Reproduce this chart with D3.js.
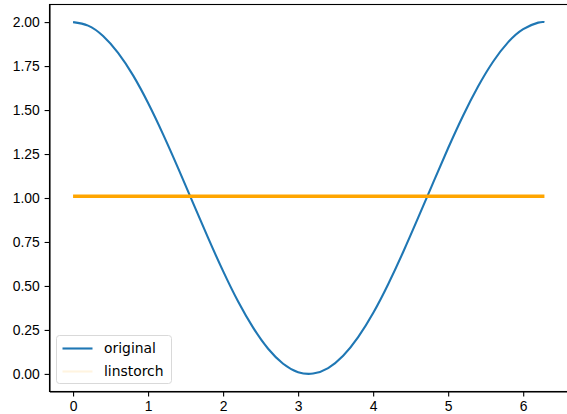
<!DOCTYPE html>
<html>
<head>
<meta charset="utf-8">
<script src="https://cdn.jsdelivr.net/npm/d3@7"></script>
<style>
  body { margin: 0; background: #fff; }
  svg { display: block; font-family: "DejaVu Sans", sans-serif; }
  .axis text { font-size: 13.9px; fill: #000; }
  .axis path, .axis line { stroke: #000; stroke-width: 1.1px; }
</style>
</head>
<body>
<div id="chart"></div>
<script>
  // Values.
  var xValues = [0, 0.2, 0.4, 0.6, 0.8, 1.0, 1.2, 1.4, 1.6, 1.8, 2.0, 2.2, 2.4, 2.6, 2.8, 3.0,
                 3.2, 3.4, 3.6, 3.8, 4.0, 4.2, 4.4, 4.6, 4.8, 5.0, 5.2, 5.4, 5.6, 5.8, 6.0, 6.2, 6.283];
  var original = [2.000, 1.980, 1.921, 1.825, 1.697, 1.540, 1.362, 1.170, 0.971, 0.773, 0.584,
                  0.411, 0.263, 0.143, 0.058, 0.010, 0.002, 0.033, 0.103, 0.209, 0.346, 0.510,
                  0.693, 0.888, 1.087, 1.284, 1.469, 1.635, 1.776, 1.886, 1.960, 1.997, 2.000];
  var linstorchX = [0, 6.283];
  var linstorch = [1.01, 1.01];
  var xTicks = [0, 1, 2, 3, 4, 5, 6];
  var yTicks = [0, 0.25, 0.5, 0.75, 1.0, 1.25, 1.5, 1.75, 2.0];
  var legendLabels = ['original', 'linstorch'];

  var totalW = 567, totalH = 414;
  var margin = {top: 4.5, right: -1, bottom: 22.5, left: 49.5};
  var chartW = totalW - margin.left - margin.right;
  var chartH = totalH - margin.top - margin.bottom;

  var svg = d3.select('#chart').append('svg')
              .attr('width', totalW)
              .attr('height', totalH);

  // matplotlib style 5% padding on each side
  var xPad = 6.283 * 0.05, yPad = 2 * 0.05;
  var x = d3.scaleLinear().domain([-xPad, 6.283 + xPad]).range([margin.left, margin.left + chartW]);
  var y = d3.scaleLinear().domain([-yPad, 2 + yPad]).range([margin.top + chartH, margin.top]);

  // Lines
  var pts = xValues.map(function(d, i) { return [d, original[i]]; });
  var line = d3.line()
               .x(function(d) { return x(d[0]); })
               .y(function(d) { return y(d[1]); })
               .curve(d3.curveNatural);

  svg.append('path')
     .datum(pts)
     .attr('d', line)
     .attr('fill', 'none')
     .attr('stroke', '#1f77b4')
     .attr('stroke-width', 2.1);

  svg.append('path')
     .datum(linstorchX.map(function(d, i) { return [d, linstorch[i]]; }))
     .attr('d', line.curve(d3.curveLinear))
     .attr('fill', 'none')
     .attr('stroke', '#ffa500')
     .attr('stroke-width', 3.6);

  // Axes
  svg.append('g')
     .classed('axis', true)
     .attr('transform', 'translate(0,' + (margin.top + chartH) + ')')
     .call(d3.axisBottom(x).tickValues(xTicks).tickFormat(d3.format('d'))
             .tickSizeInner(4.9).tickSizeOuter(0).tickPadding(4.9));

  svg.append('g')
     .classed('axis', true)
     .attr('transform', 'translate(' + margin.left + ',0)')
     .call(d3.axisLeft(y).tickValues(yTicks).tickFormat(d3.format('.2f'))
             .tickSizeInner(4.9).tickSizeOuter(0).tickPadding(4.9));

  // frame top / right
  svg.append('rect')
     .attr('x', margin.left)
     .attr('y', margin.top)
     .attr('width', chartW)
     .attr('height', chartH)
     .attr('fill', 'none')
     .attr('stroke', '#000')
     .attr('stroke-width', 1.1);

  // Legend
  var legend = svg.append('g').attr('transform', 'translate(56.5,335.5)');
  legend.append('rect')
        .attr('width', 115)
        .attr('height', 48)
        .attr('rx', 3)
        .attr('fill', 'rgba(255,255,255,0.8)')
        .attr('stroke', '#d9d9d9')
        .attr('stroke-width', 1);

  var legendColors = ['#1f77b4', 'rgba(255,165,0,0.12)'];
  legendLabels.forEach(function(label, i) {
    var cy = 13 + i * 23;
    legend.append('line')
          .attr('x1', 6).attr('x2', 36)
          .attr('y1', cy).attr('y2', cy)
          .attr('stroke', legendColors[i])
          .attr('stroke-width', 2.1);
    legend.append('text')
          .attr('x', 47.5)
          .attr('y', cy)
          .attr('dy', '0.35em')
          .style('font-size', '13.9px')
          .text(label);
  });
</script>
</body>
</html>
